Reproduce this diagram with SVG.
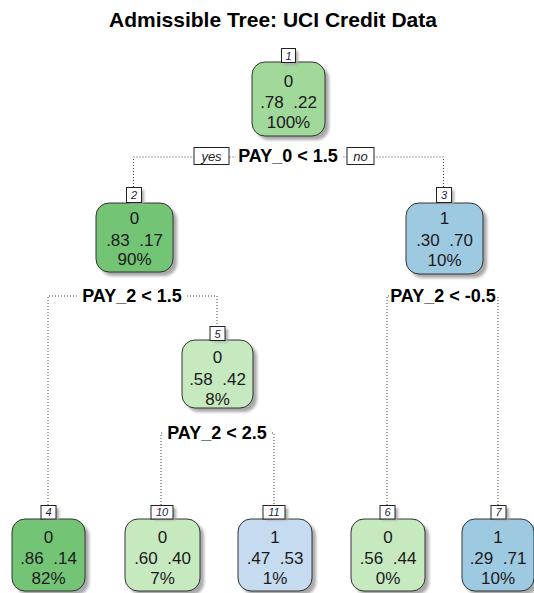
<svg xmlns="http://www.w3.org/2000/svg" width="534" height="593" viewBox="0 0 534 593">
<style>
text{font-family:"Liberation Sans",Arial,sans-serif;}
.title{font-size:21px;font-weight:bold;fill:#000;text-anchor:middle;}
.nt{font-size:17px;fill:#1a1a1a;text-anchor:middle;white-space:pre;}
.box{stroke:#333;stroke-width:1;}
.sh{fill:#a8a8a8;filter:url(#blur);}
.lb{fill:#fff;stroke:#222;stroke-width:1;}
.lt{font-size:11px;font-style:italic;fill:#1a1a40;text-anchor:middle;}
.split{font-size:18px;font-weight:bold;fill:#000;text-anchor:middle;}
.yn{font-size:13px;font-style:italic;fill:#222;text-anchor:middle;}
.con{fill:none;stroke:#444;stroke-width:1;stroke-dasharray:1,2;}
.g1{fill:#a1d99b;}.g2{fill:#74c476;}.g3{fill:#c7e9c0;}.b1{fill:#9ecae1;}.b2{fill:#c6dbef;}
</style>
<defs>
<filter id="blur" x="-20%" y="-20%" width="140%" height="140%"><feGaussianBlur stdDeviation="1.5"/></filter>
</defs>
<rect width="534" height="593" fill="#fff"/>
<text class="title" x="273" y="27">Admissible Tree: UCI Credit Data</text>

<g id="connectors">
<path class="con" d="M133.5,187 V157 H443.5 V187"/>
<path class="con" d="M48,505 V296 H217 V326"/>
<path class="con" d="M387,505 V296 H498 V505"/>
<path class="con" d="M161,505 V433 H274 V505"/>
</g>

<g id="split1">
<rect x="236" y="146" width="106" height="20" fill="#fff"/>
<text class="split" x="288" y="162">PAY_0 &lt; 1.5</text>
<rect class="lb" x="194" y="147.5" width="35" height="17"/>
<text class="yn" x="211.5" y="160.5">yes</text>
<rect class="lb" x="347" y="147.5" width="27" height="17"/>
<text class="yn" x="360.5" y="160.5">no</text>
</g>
<g id="split2">
<rect x="79" y="285" width="106" height="20" fill="#fff"/>
<text class="split" x="132" y="302">PAY_2 &lt; 1.5</text>
</g>
<g id="split3">
<rect x="389" y="285" width="108" height="20" fill="#fff"/>
<text class="split" x="443" y="302">PAY_2 &lt; -0.5</text>
</g>
<g id="split5">
<rect x="164" y="422" width="106" height="20" fill="#fff"/>
<text class="split" x="217" y="439">PAY_2 &lt; 2.5</text>
</g>

<g id="node1">
<rect class="sh" x="256" y="66" width="73" height="74" rx="13"/>
<rect class="box g1" x="252" y="62" width="73" height="74" rx="13"/>
<rect class="sh" x="284" y="51" width="14" height="14"/>
<rect class="lb" x="281.5" y="48.5" width="14" height="14"/>
<text class="lt" x="288.5" y="59.5">1</text>
<text class="nt" x="288.5" y="87">0</text>
<text class="nt" x="288.5" y="108">.78  .22</text>
<text class="nt" x="288.5" y="128">100%</text>
</g>

<g id="node2">
<rect class="sh" x="100" y="207" width="77" height="69" rx="13"/>
<rect class="box g2" x="96" y="203" width="77" height="69" rx="13"/>
<rect class="sh" x="129" y="190" width="15" height="14"/>
<rect class="lb" x="126.5" y="187.5" width="15" height="15"/>
<text class="lt" x="134" y="199">2</text>
<text class="nt" x="134.5" y="224">0</text>
<text class="nt" x="134.5" y="246">.83  .17</text>
<text class="nt" x="134.5" y="265">90%</text>
</g>

<g id="node3">
<rect class="sh" x="410" y="207" width="77" height="71" rx="13"/>
<rect class="box b1" x="406" y="203" width="77" height="71" rx="13"/>
<rect class="sh" x="439" y="190" width="15" height="14"/>
<rect class="lb" x="436.5" y="187.5" width="15" height="15"/>
<text class="lt" x="444" y="199">3</text>
<text class="nt" x="444.5" y="224">1</text>
<text class="nt" x="444.5" y="246">.30  .70</text>
<text class="nt" x="444.5" y="266">10%</text>
</g>

<g id="node5">
<rect class="sh" x="186" y="344" width="71" height="68" rx="13"/>
<rect class="box g3" x="182" y="340" width="71" height="68" rx="13"/>
<rect class="sh" x="213" y="329" width="15" height="13"/>
<rect class="lb" x="210" y="326.5" width="15" height="14"/>
<text class="lt" x="217.5" y="337.5">5</text>
<text class="nt" x="217.5" y="363">0</text>
<text class="nt" x="217.5" y="385">.58  .42</text>
<text class="nt" x="217.5" y="405">8%</text>
</g>

<g id="node4">
<rect class="sh" x="16" y="523" width="73" height="72" rx="13"/>
<rect class="box g2" x="12" y="519" width="73" height="72" rx="13"/>
<rect class="sh" x="44" y="508" width="15" height="12"/>
<rect class="lb" x="41" y="505.5" width="15" height="13.5"/>
<text class="lt" x="48.5" y="516">4</text>
<text class="nt" x="48.5" y="543">0</text>
<text class="nt" x="48.5" y="564">.86  .14</text>
<text class="nt" x="48.5" y="584">82%</text>
</g>

<g id="node10">
<rect class="sh" x="129" y="523" width="75" height="72" rx="13"/>
<rect class="box g3" x="125" y="519" width="75" height="72" rx="13"/>
<rect class="sh" x="154" y="508" width="22" height="12"/>
<rect class="lb" x="151" y="505.5" width="22" height="13.5"/>
<text class="lt" x="162" y="516">10</text>
<text class="nt" x="162.5" y="543">0</text>
<text class="nt" x="162.5" y="564">.60  .40</text>
<text class="nt" x="162.5" y="584">7%</text>
</g>

<g id="node11">
<rect class="sh" x="242" y="523" width="74" height="72" rx="13"/>
<rect class="box b2" x="238" y="519" width="74" height="72" rx="13"/>
<rect class="sh" x="266" y="508" width="22" height="12"/>
<rect class="lb" x="263" y="505.5" width="22" height="13.5"/>
<text class="lt" x="274" y="516">11</text>
<text class="nt" x="275" y="543">1</text>
<text class="nt" x="275" y="564">.47  .53</text>
<text class="nt" x="275" y="584">1%</text>
</g>

<g id="node6">
<rect class="sh" x="355" y="523" width="74" height="72" rx="13"/>
<rect class="box g3" x="351" y="519" width="74" height="72" rx="13"/>
<rect class="sh" x="383" y="508" width="15" height="12"/>
<rect class="lb" x="380" y="505.5" width="15" height="13.5"/>
<text class="lt" x="387.5" y="516">6</text>
<text class="nt" x="388" y="543">0</text>
<text class="nt" x="388" y="564">.56  .44</text>
<text class="nt" x="388" y="584">0%</text>
</g>

<g id="node7">
<rect class="sh" x="466" y="523" width="72" height="72" rx="13"/>
<rect class="box b1" x="462" y="519" width="72" height="72" rx="13"/>
<rect class="sh" x="494" y="508" width="15" height="12"/>
<rect class="lb" x="491" y="505.5" width="15" height="13.5"/>
<text class="lt" x="498.5" y="516">7</text>
<text class="nt" x="498" y="543">1</text>
<text class="nt" x="498" y="564">.29  .71</text>
<text class="nt" x="498" y="584">10%</text>
</g>
</svg>
